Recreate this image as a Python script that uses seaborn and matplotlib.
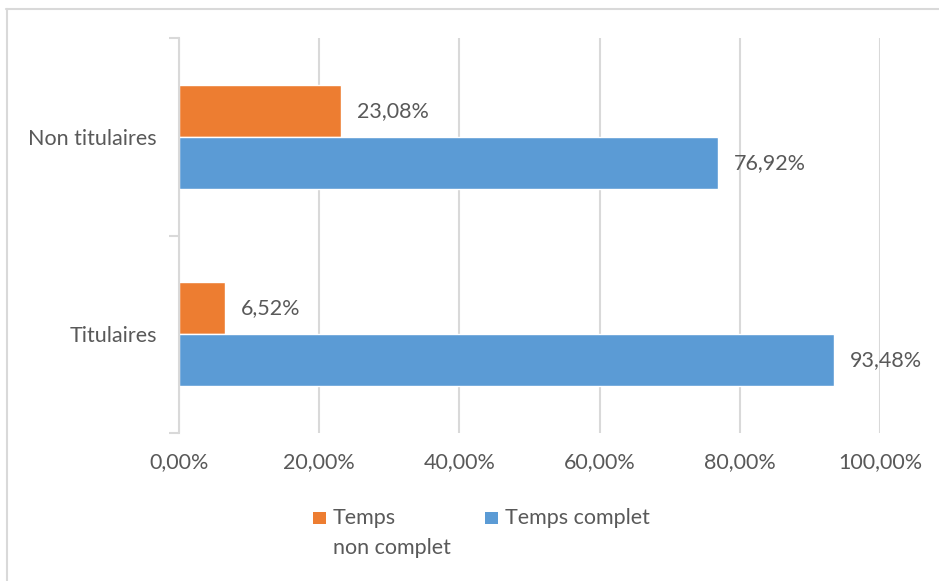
import matplotlib
matplotlib.use("Agg")
import matplotlib.pyplot as plt
from matplotlib.lines import Line2D
from matplotlib.patches import Rectangle
from matplotlib.ticker import FixedLocator, FuncFormatter
import pandas as pd
import seaborn as sns

# Data
categories = ["Non titulaires", "Titulaires"]
series_names = ["Temps non complet", "Temps complet"]
legend_lines = [["Temps", "non complet"], ["Temps complet"]]
non_complet = [23.08, 6.52]
complet = [76.92, 93.48]
x_ticks = [0, 20, 40, 60, 80, 100]

ORANGE = "#ED7D31"
BLUE = "#5B9BD5"
TEXT = "#595959"
GRID = "#D9D9D9"
FS = 15.5
W, H = 939, 581

sns.set_theme(style="white")
plt.rcParams["font.family"] = ["Lato", "DejaVu Sans"]

df = pd.DataFrame({
    "categorie": categories * 2,
    "serie": [series_names[0]] * 2 + [series_names[1]] * 2,
    "valeur": non_complet + complet,
})

fig = plt.figure(figsize=(W / 100, H / 100), dpi=100)
ax = fig.add_axes([179 / W, 1 - 433 / H, (880 - 179) / W, (433 - 38) / H])

sns.barplot(data=df, y="categorie", x="valeur", hue="serie",
            order=categories, hue_order=series_names,
            palette=[ORANGE, BLUE], width=0.525, saturation=1,
            orient="h", ax=ax, legend=False, errorbar=None)

ax.set_xlim(0, 100)
ax.set_ylim(1.5, -0.5)
ax.set_xlabel("")
ax.set_ylabel("")

# Gridlines and axes styling
ax.xaxis.set_major_locator(FixedLocator(x_ticks))
ax.xaxis.set_major_formatter(FuncFormatter(lambda v, p: f"{v:.2f}%".replace(".", ",")))
ax.grid(axis="x", color=GRID, linewidth=1.5)
ax.set_axisbelow(True)
for side in ["top", "right", "bottom"]:
    ax.spines[side].set_visible(False)
ax.spines["left"].set_color(GRID)
ax.spines["left"].set_linewidth(1.5)
ax.tick_params(axis="x", length=0, labelsize=FS, labelcolor=TEXT, pad=14)
ax.tick_params(axis="y", which="major", length=0, labelsize=FS, labelcolor=TEXT, pad=16)
ax.yaxis.set_minor_locator(FixedLocator([-0.5, 0.5, 1.5]))
ax.tick_params(axis="y", which="minor", length=7, width=1.5, color=GRID, left=True)

# Value labels
for container in ax.containers:
    ax.bar_label(container, labels=[f"{b.get_width():.2f}%".replace(".", ",") for b in container],
                 padding=11.5, fontsize=FS, color=TEXT)

# Legend: colour swatch followed by (possibly wrapped) series name
legend_entries = [(ORANGE, 313, legend_lines[0]), (BLUE, 485, legend_lines[1])]
for color, x0, lines in legend_entries:
    fig.add_artist(Rectangle((x0 / W, 1 - 524 / H), 13 / W, 12 / H,
                             transform=fig.transFigure, facecolor=color, edgecolor="none"))
    for i, line in enumerate(lines):
        fig.text((x0 + 20) / W, 1 - (518 + 30 * i) / H, line, fontsize=FS,
                 color=TEXT, ha="left", va="center")

# Chart frame
fig.add_artist(Line2D([6 / W, 1], [1 - 8.5 / H] * 2, color=GRID, linewidth=1.5))
fig.add_artist(Line2D([6.5 / W] * 2, [0, 1 - 8.5 / H], color=GRID, linewidth=1.5))

fig.savefig("out.png", dpi=100)
